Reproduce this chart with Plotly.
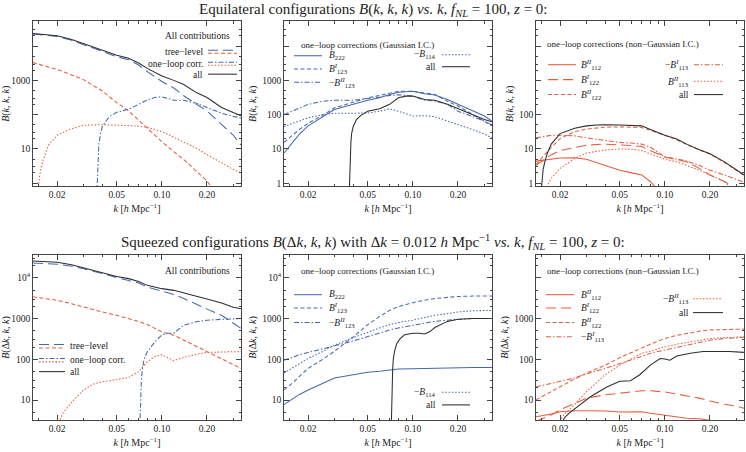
import plotly.graph_objects as go

# ---------------- data ----------------
K = [0.0138, 0.0155, 0.0175, 0.02, 0.025, 0.03, 0.04, 0.05, 0.06, 0.07, 0.08,
     0.1, 0.12, 0.14, 0.17, 0.2, 0.25, 0.3, 0.337]

# Panel 1: equilateral, all contributions
p1_all_k = [0.0138, 0.0155, 0.0175, 0.02, 0.025, 0.03, 0.04, 0.05, 0.06, 0.07, 0.08, 0.09,
            0.1, 0.12, 0.14, 0.17, 0.2, 0.25, 0.3, 0.337]
p1_all = [23400, 22400, 21400, 20000, 15500, 11700, 7600, 5400, 4400, 3200, 2240, 1700,
          1350, 1000, 760, 440, 316, 162, 112, 93]
p1_tree_g_k = p1_all_k
p1_tree_g = [22400, 21400, 20400, 19000, 14800, 11200, 7100, 4900, 4000, 2800, 1800, 1290,
             930, 600, 355, 200, 129, 52, 25, 12.9]
p1_tree_ng_k = [0.0138, 0.0155, 0.0175, 0.02, 0.025, 0.03, 0.04, 0.05, 0.06, 0.07, 0.08,
                0.1, 0.12, 0.14, 0.17, 0.2, 0.22]
p1_tree_ng = [3300, 2800, 2450, 2100, 1450, 1050, 490, 224, 129, 68, 39,
              16.2, 8.3, 4.9, 2.24, 1.17, 0.63]
p1_loop_g_k = [0.0368, 0.0372, 0.0376, 0.038, 0.039, 0.04, 0.043, 0.045, 0.05, 0.06, 0.07,
               0.08, 0.09, 0.1, 0.11, 0.12, 0.14, 0.17, 0.2, 0.25, 0.3, 0.337]
p1_loop_g = [0.5, 2.0, 6.3, 14.1, 28, 45, 71, 89, 117, 145, 200,
             270, 316, 331, 295, 263, 263, 214, 162, 110, 89, 79]
p1_loop_ng_k = [0.0149, 0.0152, 0.0156, 0.0162, 0.0175, 0.02, 0.025, 0.03, 0.04, 0.05, 0.06,
                0.07, 0.08, 0.1, 0.12, 0.14, 0.17, 0.2, 0.25, 0.3, 0.337]
p1_loop_ng = [0.5, 1.4, 2.8, 5.0, 12.9, 25, 39, 49, 51, 50, 48,
              46, 43, 32, 22, 16.2, 10.5, 6.8, 3.9, 2.5, 2.0]

# Panel 2: equilateral, one-loop Gaussian
p2_b222 = [7.6, 13.8, 27, 47, 87, 141, 200, 263, 309, 389, 447, 479, 407, 372, 275, 200, 126, 91, 65]
p2_b123i = [15.5, 24, 37, 56, 95, 158, 229, 309, 363, 427, 479, 479, 427, 389, 245, 178, 102, 65, 47]
p2_b123ii = [100, 126, 158, 200, 245, 263, 263, 288, 324, 363, 380, 347, 263, 251, 200, 126, 87, 65, 50]
p2_b114 = [45, 55, 65, 81, 100, 110, 110, 112, 126, 148, 126, 91, 93, 87, 65, 52, 37, 27, 21]
p2_all_k = [0.0376, 0.0379, 0.0382, 0.0386, 0.039, 0.04, 0.042, 0.045, 0.05, 0.06, 0.07,
            0.08, 0.09, 0.1, 0.12, 0.14, 0.17, 0.2, 0.25, 0.3, 0.337]
p2_all = [0.5, 2.0, 6.3, 15.8, 28, 45, 72, 95, 126, 148, 200,
          309, 347, 347, 275, 263, 200, 148, 102, 72, 62]

# Panel 3: equilateral, one-loop non-Gaussian
p3_b112ii_k = [0.0138, 0.0155, 0.0175, 0.02, 0.025, 0.03, 0.04, 0.05, 0.06, 0.07, 0.08, 0.09]
p3_b112ii = [4.4, 4.7, 5.0, 5.4, 5.5, 5.0, 3.3, 2.4, 2.0, 1.74, 1.12, 0.63]
p3_b122i_k = K[:18]
p3_b122i = [3.3, 4.7, 6.8, 8.9, 11.2, 12.9, 13.8, 13.2, 12.6, 11.7, 8.9, 5.8, 4.9, 4.2, 2.7, 1.74, 1.12, 0.7]
p3_b122ii = [3.5, 6.3, 11.2, 20, 32, 38, 43, 44, 44, 42, 35, 24, 18.6, 13.2, 9.3, 7.1, 4.0, 2.3, 1.7]
p3_b113i = [21, 23, 25, 25, 24, 21, 17.4, 15.5, 14.8, 13.8, 11.2, 5.8, 5.1, 4.4, 3.3, 2.4, 1.74, 1.26, 1.07]
p3_b113ii_k = [0.0158, 0.0165, 0.0175, 0.02, 0.025, 0.03, 0.04, 0.05, 0.06, 0.07, 0.08,
               0.1, 0.12, 0.14, 0.17, 0.2, 0.25, 0.28]
p3_b113ii = [0.5, 0.9, 1.4, 2.7, 5.2, 7.6, 9.3, 10, 9.8, 8.9, 7.2, 5.0, 4.2, 3.3, 2.4, 1.74, 1.12, 0.7]
p3_all_k = [0.0149, 0.0151, 0.0154, 0.0158, 0.0165, 0.0175, 0.02, 0.025, 0.03, 0.035, 0.04,
            0.05, 0.06, 0.07, 0.08, 0.1, 0.12, 0.14, 0.17, 0.2, 0.25, 0.3, 0.337]
p3_all = [0.5, 1.26, 2.5, 4.2, 7.9, 14.1, 28, 40, 47, 50, 51,
          50, 49, 47, 37, 25, 19.5, 13.8, 9.5, 7.2, 4.2, 2.4, 1.74]

# Panel 4: squeezed, all contributions
p4_all = [25700, 25100, 24500, 24000, 20900, 17400, 13200, 10700, 9500, 8100, 6500,
          5400, 4900, 4300, 3500, 3000, 2400, 1900, 1740]
p4_tree_g = [22900, 22400, 21900, 21400, 19000, 16600, 12600, 10000, 8500, 7400, 5900,
             4700, 3900, 3100, 2200, 1700, 1200, 760, 575]
p4_tree_ng = [3400, 3200, 3000, 2800, 2300, 1900, 1450, 1200, 1000, 850, 710,
              470, 390, 295, 204, 155, 105, 72, 60]
p4_loop_g_k = [0.0712, 0.0718, 0.0724, 0.073, 0.074, 0.076, 0.08, 0.09, 0.1, 0.11, 0.12,
               0.13, 0.14, 0.17, 0.2, 0.25, 0.3, 0.337]
p4_loop_g = [2.0, 6.3, 15.8, 32, 56, 100, 155, 270, 400, 435, 435,
             550, 690, 830, 910, 955, 1000, 1000]
p4_loop_ng_k = [0.0205, 0.022, 0.025, 0.03, 0.035, 0.04, 0.05, 0.06, 0.07, 0.08, 0.09,
                0.1, 0.12, 0.14, 0.17, 0.2, 0.25, 0.3, 0.337]
p4_loop_ng = [2.8, 5.0, 8.9, 17.8, 25, 28, 32, 36, 50, 87, 117,
              129, 93, 112, 132, 148, 151, 155, 155]

# Panel 5: squeezed, one-loop Gaussian
p5_b222 = [7.8, 10.5, 13.8, 17.8, 26, 35, 42, 48, 51, 55, 58, 59, 60, 62, 63, 63, 63, 63, 63]
p5_b123i = [17.8, 25, 38, 60, 100, 158, 355, 710, 1120, 1580, 1950, 2450, 2800, 3100, 3300,
            3470, 3550, 3550, 3550]
p5_b123ii = [95, 112, 129, 148, 178, 214, 282, 363, 447, 525, 589, 692, 776, 851, 912,
             955, 1000, 1000, 1000]
p5_b114 = [46, 60, 79, 105, 155, 224, 339, 468, 589, 708, 794, 912, 1050, 1200, 1320,
           1450, 1550, 1580, 1580]
p5_all_k = [0.0718, 0.0722, 0.0727, 0.0733, 0.074, 0.0755, 0.078, 0.082, 0.088, 0.095,
            0.1, 0.11, 0.12, 0.13, 0.14, 0.17, 0.2, 0.25, 0.3, 0.337]
p5_all = [2.5, 7.9, 25, 56, 100, 158, 240, 316, 398, 427,
          437, 437, 417, 479, 603, 851, 955, 1000, 1000, 1000]

# Panel 6: squeezed, one-loop non-Gaussian
p6_b112ii = [3.9, 4.2, 4.6, 5.2, 5.5, 5.5, 5.4, 5.1, 5.1, 5.2, 4.8, 4.3, 4.0, 3.6, 3.5, 3.2, 2.8, 2.6, 2.4]
p6_b122i = [3.0, 3.6, 4.4, 5.8, 8.5, 11.2, 13.5, 14.8, 16.2, 17.0, 17.0, 15.8, 14.1, 12.9, 11.2,
            9.5, 7.9, 7.1, 6.3]
p6_b122ii = [10.2, 12.9, 16.2, 21, 33, 46, 72, 110, 148, 191, 234, 324, 389, 427, 490, 525, 537, 550, 550]
p6_b113i = [21, 23, 26, 29, 35, 44, 60, 78, 95, 117, 141, 170, 191, 224, 257, 295, 324, 339, 347]
p6_b113ii_k = [0.0195, 0.02, 0.021, 0.025, 0.03, 0.04, 0.05, 0.06, 0.07, 0.08,
               0.1, 0.12, 0.14, 0.17, 0.2, 0.25, 0.3, 0.337]
p6_b113ii = [2.5, 3.2, 4.2, 7.8, 16.2, 42, 72, 105, 141, 158, 204, 234, 257, 295, 324, 339, 347, 355]
p6_all_k = [0.0205, 0.0215, 0.023, 0.0245, 0.032, 0.041, 0.05, 0.059, 0.068, 0.08,
            0.093, 0.1, 0.108, 0.12, 0.148, 0.18, 0.27, 0.337]
p6_all = [2.8, 3.8, 4.8, 5.8, 12.3, 21, 29, 30, 42, 72, 105, 102, 95, 120, 141, 155, 155, 148]

x_tickvals = [0.02, 0.05, 0.1, 0.2]
x_ticktext = ["0.02", "0.05", "0.10", "0.20"]
x_minor = [0.015, 0.03, 0.04, 0.06, 0.07, 0.08, 0.09, 0.3]

# ---------------- styling ----------------
W, H = 746, 452
BLUE = "#4767b0"
RED = "#e55d3e"
BLACK = "#2e2e2e"
FONT = "Liberation Serif"
LW = 1.05
DASH = {
    "solid": "solid",
    "long": "10px,5px",
    "short": "4px,2.5px",
    "dashdot": "5px,2px,1.5px,2px",
    "dot": "1.5px,1.8px",
}


def px(x):
    return x / W


def py(y):
    return 1 - y / H


XD = [(33, 241), (284, 492), (536, 744)]
YD = [(21.5, 187), (256, 422)]

fig = go.Figure()


def add(panel, k, v, color, dash):
    sfx = "" if panel == 1 else str(panel)
    fig.add_trace(go.Scatter(x=k, y=v, mode="lines", showlegend=False, hoverinfo="skip",
                             line=dict(color=color, width=LW, dash=DASH[dash]),
                             xaxis="x" + sfx, yaxis="y" + sfx))


# panel 1
add(1, p1_tree_ng_k, p1_tree_ng, RED, "short")
add(1, p1_loop_ng_k, p1_loop_ng, RED, "dot")
add(1, p1_loop_g_k, p1_loop_g, BLUE, "dashdot")
add(1, p1_tree_g_k, p1_tree_g, BLUE, "long")
add(1, p1_all_k, p1_all, BLACK, "solid")
# panel 2
add(2, K, p2_b114, BLUE, "dot")
add(2, K, p2_b123ii, BLUE, "dashdot")
add(2, K, p2_b123i, BLUE, "short")
add(2, K, p2_b222, BLUE, "solid")
add(2, p2_all_k, p2_all, BLACK, "solid")
# panel 3
add(3, p3_b112ii_k, p3_b112ii, RED, "solid")
add(3, p3_b122i_k, p3_b122i, RED, "long")
add(3, K, p3_b122ii, RED, "short")
add(3, K, p3_b113i, RED, "dashdot")
add(3, p3_b113ii_k, p3_b113ii, RED, "dot")
add(3, p3_all_k, p3_all, BLACK, "solid")
# panel 4
add(4, K, p4_tree_ng, RED, "short")
add(4, p4_loop_ng_k, p4_loop_ng, RED, "dot")
add(4, p4_loop_g_k, p4_loop_g, BLUE, "dashdot")
add(4, K, p4_tree_g, BLUE, "long")
add(4, K, p4_all, BLACK, "solid")
# panel 5
add(5, K, p5_b114, BLUE, "dot")
add(5, K, p5_b123ii, BLUE, "dashdot")
add(5, K, p5_b123i, BLUE, "short")
add(5, K, p5_b222, BLUE, "solid")
add(5, p5_all_k, p5_all, BLACK, "solid")
# panel 6
add(6, K, p6_b112ii, RED, "solid")
add(6, K, p6_b122i, RED, "long")
add(6, K, p6_b122ii, RED, "short")
add(6, K, p6_b113i, RED, "dashdot")
add(6, p6_b113ii_k, p6_b113ii, RED, "dot")
add(6, p6_all_k, p6_all, BLACK, "solid")

# ---------------- axes ----------------
top_vals = [1, 10, 100, 1000, 10000]
ylabels = {
    1: ["", "10", "", "1000", ""],
    2: ["1", "10", "100", "1000", ""],
    3: ["1", "10", "100", "", ""],
    4: ["", "10", "100", "1000", "10<sup>4</sup>"],
    5: ["", "10", "100", "1000", "10<sup>4</sup>"],
    6: ["", "10", "100", "1000", ""],
}
yminor_top = [2, 3, 5, 20, 30, 50, 200, 300, 500, 2000, 3000, 5000, 20000, 30000]

layout_axes = {}
for p in range(1, 7):
    sfx = "" if p == 1 else str(p)
    col = (p - 1) % 3
    row = (p - 1) // 3
    x0, x1 = XD[col]
    y0, y1 = YD[row]
    axis_common = dict(
        showline=True, linecolor="#444", linewidth=0.8, mirror="allticks",
        ticks="inside", ticklen=5, tickwidth=0.7, tickcolor="#444",
        showgrid=False, zeroline=False,
        tickfont=dict(family=FONT, size=9.5, color="#222"),
    )
    layout_axes["xaxis" + sfx] = dict(
        axis_common, type="log", domain=[px(x0), px(x1)], range=[-1.86, -0.472],
        anchor="y" + sfx, tickmode="array", tickvals=x_tickvals, ticktext=x_ticktext,
        minor=dict(ticks="inside", ticklen=2.5, tickcolor="#444", tickvals=x_minor),
        title=dict(text="<i>k</i> [<i>h</i> Mpc<sup>−1</sup>]", standoff=5,
                   font=dict(family=FONT, size=10, color="#222")),
    )
    ytitle = "<i>B</i>(<i>k</i>, <i>k</i>, <i>k</i>)" if row == 0 else \
        "<i>B</i>(Δ<i>k</i>, <i>k</i>, <i>k</i>)"
    layout_axes["yaxis" + sfx] = dict(
        axis_common, type="log", domain=[py(y1), py(y0)],
        range=[-0.087, 4.72] if row == 0 else [0.51, 4.56],
        anchor="x" + sfx, tickmode="array", tickvals=top_vals, ticktext=ylabels[p],
        minor=dict(ticks="inside", ticklen=2.5, tickcolor="#444", tickvals=yminor_top),
        title=dict(text=ytitle, standoff=3,
                   font=dict(family=FONT, size=10, color="#222")),
    )

annotations = []
shapes = []


def text(x, y, s, anchor="left", size=9.5):
    annotations.append(dict(x=px(x), y=py(y), xref="paper", yref="paper", text=s,
                            showarrow=False, xanchor=anchor, yanchor="middle",
                            font=dict(family=FONT, size=size, color="#222")))


def sample(xa, xb, y, color, dash):
    shapes.append(dict(type="line", xref="paper", yref="paper", x0=px(xa), x1=px(xb),
                       y0=py(y), y1=py(y), line=dict(color=color, width=LW, dash=DASH[dash])))


def B(sub, sup=None):
    s = "<i>B</i>"
    if sup:
        s += "<sup><i>" + sup + "</i></sup>"
    s += "<sub>" + sub + "</sub>"
    return s


# Titles
text(373, 10, "Equilateral configurations <i>B</i>(<i>k</i>, <i>k</i>, <i>k</i>) "
     "<i>vs.</i> <i>k</i>, <i>f</i><sub><i>NL</i></sub> = 100, <i>z</i> = 0:", "center", 15)
text(373, 243, "Squeezed configurations <i>B</i>(Δ<i>k</i>, <i>k</i>, <i>k</i>) with "
     "Δ<i>k</i> = 0.012 <i>h</i> Mpc<sup>−1</sup> <i>vs.</i> <i>k</i>, "
     "<i>f</i><sub><i>NL</i></sub> = 100, <i>z</i> = 0:", "center", 15)

# Panel 1 legend
text(197, 36, "All contributions", "center")
text(205, 52, "tree−level", "right")
sample(208, 237, 50.5, BLUE, "long")
sample(208, 237, 53.5, RED, "short")
text(205, 64, "one−loop corr.", "right")
sample(208, 237, 62.5, BLUE, "dashdot")
sample(208, 237, 65.5, RED, "dot")
text(205, 75, "all", "right")
sample(208, 237, 74.5, BLACK, "solid")

# Panel 2 legend
text(299, 45, "one−loop corrections (Gaussian I.C.)", "left", 9)
for y, s, d in [(56, B("222"), "solid"), (69.3, B("123", "I"), "short"),
                (82.7, "−" + B("123", "II"), "dashdot")]:
    sample(294, 322, y, BLUE, d)
    text(327, y, s)
text(438, 55, "−" + B("114"), "right")
sample(442, 470, 55, BLUE, "dot")
text(438, 67, "all", "right")
sample(442, 470, 67, BLACK, "solid")

# Panel 3 legend
text(545, 44, "one−loop corrections (non−Gaussian I.C.)", "left", 9)
for y, s, d in [(65, B("112", "II"), "solid"), (80, B("122", "I"), "long"),
                (95, B("122", "II"), "short")]:
    sample(548, 576, y, RED, d)
    text(579, y, s)
text(691, 65, "−" + B("113", "I"), "right")
sample(694, 723, 65, RED, "dashdot")
text(691, 81.7, B("113", "II"), "right")
sample(694, 723, 81.7, RED, "dot")
text(691, 95, "all", "right")
sample(694, 723, 95, BLACK, "solid")

# Panel 4 legend
text(197, 272, "All contributions", "center")
sample(39, 65, 346, BLUE, "long")
sample(39, 65, 349.5, RED, "short")
text(68, 347.7, "tree−level")
sample(39, 65, 360, BLUE, "dashdot")
sample(39, 65, 363.5, RED, "dot")
text(68, 361.7, "one−loop corr.")
sample(39, 65, 373.3, BLACK, "solid")
text(68, 373.3, "all")

# Panel 5 legend
text(299, 272, "one−loop corrections (Gaussian I.C.)", "left", 9)
for y, s, d in [(296, B("222"), "solid"), (309.3, B("123", "I"), "short"),
                (324, "−" + B("123", "II"), "dashdot")]:
    sample(294, 322, y, BLUE, d)
    text(327, y, s)
text(438, 394, "−" + B("114"), "right")
sample(442, 470, 394, BLUE, "dot")
text(438, 406.7, "all", "right")
sample(442, 470, 406.7, BLACK, "solid")

# Panel 6 legend
text(545, 272, "one−loop corrections (non−Gaussian I.C.)", "left", 9)
for y, s, d in [(296, B("112", "II"), "solid"), (309.3, B("122", "I"), "long"),
                (324, B("122", "II"), "short"), (338.3, "−" + B("113", "I"), "dashdot")]:
    sample(546, 574, y, RED, d)
    text(579, y, s)
text(691, 300, "−" + B("113", "II"), "right")
sample(693, 723, 300, RED, "dot")
text(691, 314, "all", "right")
sample(693, 723, 314, BLACK, "solid")

fig.update_layout(
    width=W, height=H, margin=dict(l=0, r=0, t=0, b=0),
    paper_bgcolor="white", plot_bgcolor="white",
    font=dict(family=FONT, color="#222"),
    annotations=annotations, shapes=shapes, showlegend=False,
    **layout_axes,
)

fig.write_html("out.html")
